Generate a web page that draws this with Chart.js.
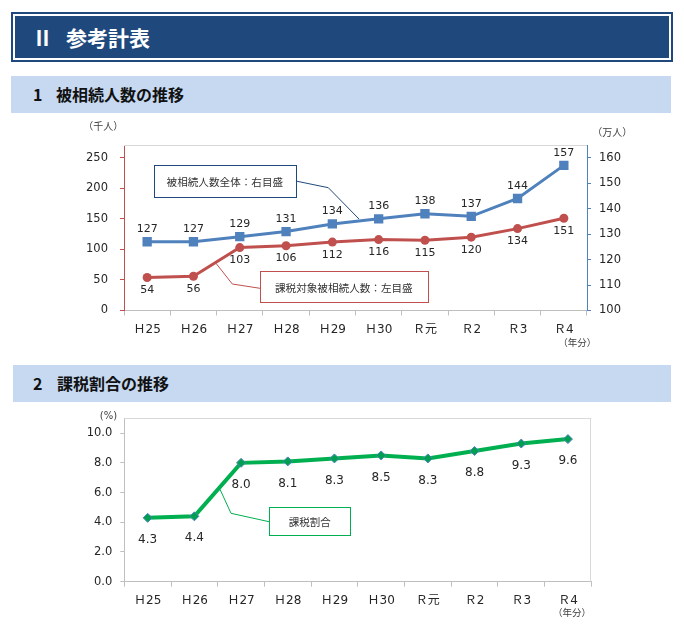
<!DOCTYPE html>
<html><head><meta charset="utf-8">
<script src="https://cdn.jsdelivr.net/npm/chart.js@4"></script>
<style>
html,body{margin:0;padding:0;background:#fff;width:684px;height:632px;overflow:hidden;}
body{position:relative;font-family:"Noto Sans CJK JP","Noto Sans",sans-serif;}
.banner{position:absolute;left:11px;top:12px;width:662px;height:50px;background:#1f497d;box-sizing:border-box;padding:2px;}
.banner .inner{width:100%;height:100%;box-sizing:border-box;border:2px solid #fff;background:#1f497d;position:relative;}
.bt{position:absolute;color:#fff;font-weight:bold;font-size:21px;line-height:21px;top:11px;}
.hdr{position:absolute;background:#c6d9f1;height:37px;}
.ht{position:absolute;color:#111;font-weight:bold;font-size:16px;line-height:16px;top:10px;}
canvas{position:absolute;left:0;}
</style>
</head><body>
<div class="banner"><div class="inner"><span class="bt" style="left:17px">Ⅱ</span><span class="bt" style="left:51px">参考計表</span></div></div>
<div class="hdr" style="left:11px;top:76px;width:660px;"><span class="ht" style="left:22px">1</span><span class="ht" style="left:45px">被相続人数の推移</span></div>
<div class="hdr" style="left:13px;top:365px;width:658px;"><span class="ht" style="left:20px">2</span><span class="ht" style="left:44px">課税割合の推移</span></div>
<canvas id="c1" width="684" height="250" style="top:113px"></canvas>
<canvas id="c2" width="684" height="230" style="top:402px"></canvas>
<script>
// ---- data ----
const categories = ['Ｈ25','Ｈ26','Ｈ27','Ｈ28','Ｈ29','Ｈ30','Ｒ元','Ｒ2','Ｒ3','Ｒ4'];
const totalDecedents = [127,127,129,131,134,136,138,137,144,157];   // 万人 (right axis)
const taxableDecedents = [54,56,103,106,112,116,115,120,134,151];   // 千人 (left axis)
const taxRatio = [4.3,4.4,8.0,8.1,8.3,8.5,8.3,8.8,9.3,9.6];          // %
const leftTicks = [0,50,100,150,200,250];
const rightTicks = [100,110,120,130,140,150,160];
const ratioTicks = [0,2,4,6,8,10];

const NUMFONT = '"DejaVu Sans","Noto Sans CJK JP",sans-serif';
const CJKFONT = '"Noto Sans CJK JP","Noto Sans",sans-serif';
const TXT = '#262626';

const fixedTicks = list => scale => { scale.ticks = list.map(v => ({value: v})); };

const valueLabels = {
  id: 'valueLabels',
  afterDatasetsDraw(chart) {
    const ctx = chart.ctx;
    chart.data.datasets.forEach((ds, i) => {
      const meta = chart.getDatasetMeta(i);
      ctx.save();
      ctx.font = ds.labelFont;
      ctx.fillStyle = TXT;
      ctx.textAlign = 'center';
      ctx.textBaseline = 'middle';
      meta.data.forEach((pt, j) => {
        ctx.fillText(ds.labelFormat(ds.data[j]), pt.x, pt.y + ds.labelOffset);
      });
      ctx.restore();
    });
  }
};

const frame = {
  id: 'frame',
  beforeDatasetsDraw(chart, args, opts) {
    const {ctx, chartArea: a} = chart;
    ctx.save();
    ctx.strokeStyle = opts.color;
    ctx.lineWidth = 1;
    ctx.beginPath();
    const t = Math.round(a.top) + 0.5, r = Math.round(a.right) - 0.5;
    ctx.moveTo(a.left, t); ctx.lineTo(a.right, t);
    if (opts.right) { ctx.moveTo(r, a.top); ctx.lineTo(r, a.bottom); }
    ctx.stroke();
    ctx.restore();
  }
};

const notes = {
  id: 'notes',
  afterDraw(chart, args, opts) {
    const ctx = chart.ctx;
    ctx.save();
    (opts.callouts || []).forEach(c => {
      ctx.strokeStyle = c.color; ctx.lineWidth = 1;
      ctx.beginPath();
      c.leader.forEach((p, k) => k ? ctx.lineTo(p[0], p[1]) : ctx.moveTo(p[0], p[1]));
      ctx.stroke();
      ctx.fillStyle = '#fff';
      ctx.fillRect(c.box[0], c.box[1], c.box[2], c.box[3]);
      ctx.strokeRect(Math.round(c.box[0]) + 0.5, Math.round(c.box[1]) + 0.5, Math.round(c.box[2]), Math.round(c.box[3]));
      ctx.fillStyle = '#333';
      ctx.font = c.font;
      ctx.textAlign = 'center'; ctx.textBaseline = 'middle';
      ctx.fillText(c.text, c.box[0] + c.box[2] / 2, c.box[1] + c.box[3] / 2 + 1);
    });
    (opts.texts || []).forEach(t => {
      ctx.fillStyle = '#404040';
      ctx.font = t.font;
      ctx.textAlign = 'center'; ctx.textBaseline = 'middle';
      ctx.fillText(t.text, t.x, t.y);
    });
    ctx.restore();
  }
};

const xAxis = (h) => ({
  type: 'category', offset: true,
  grid: {drawOnChartArea: false, drawTicks: true, tickLength: 5, color: '#bfbfbf', offset: true},
  border: {color: '#bfbfbf'},
  ticks: {font: {family: NUMFONT, size: 12}, color: TXT, padding: 7, maxRotation: 0, autoSkip: false},
  afterFit(s) { s.height = h; }
});

new Chart(document.getElementById('c1'), {
  type: 'line',
  data: {
    labels: categories,
    datasets: [
      {data: totalDecedents, yAxisID: 'yR', borderColor: '#4f81bd', backgroundColor: '#4f81bd',
       borderWidth: 3, pointStyle: 'rect', pointRadius: 6.6, pointBorderWidth: 0, tension: 0,
       labelOffset: -12.5, labelFont: '11px ' + NUMFONT, labelFormat: v => String(v)},
      {data: taxableDecedents, yAxisID: 'yL', borderColor: '#c0504d', backgroundColor: '#c0504d',
       borderWidth: 3, pointStyle: 'circle', pointRadius: 4.5, pointBorderWidth: 0, tension: 0,
       labelOffset: 12.8, labelFont: '11px ' + NUMFONT, labelFormat: v => String(v)}
    ]
  },
  options: {
    responsive: false, animation: false, devicePixelRatio: 1,
    layout: {padding: {top: 32, left: 0, right: 0, bottom: 0}},
    plugins: {
      legend: {display: false}, tooltip: {enabled: false},
      frame: {color: '#d9d9d9', right: false},
      notes: {
        callouts: [
          {text: '被相続人数全体：右目盛', color: '#1f497d', font: '10.6px ' + CJKFONT,
           box: [154, 51.5, 141.7, 32.2], leader: [[295.7, 68], [328.3, 74.7], [359, 106]]},
          {text: '課税対象被相続人数：左目盛', color: '#c0504d', font: '10.6px ' + CJKFONT,
           box: [260, 158, 167.7, 31.3], leader: [[260, 175.3], [232.3, 171], [216, 150.3]]}
        ],
        texts: [
          {text: '（千人）', x: 103.3, y: 13.7, font: '10px ' + CJKFONT},
          {text: '（万人）', x: 612.3, y: 19.7, font: '10px ' + CJKFONT},
          {text: '（年分）', x: 577.3, y: 229, font: '9.5px ' + CJKFONT}
        ]
      }
    },
    scales: {
      x: xAxis(52.5),
      yL: {position: 'left', min: 0, max: 270.83, afterBuildTicks: fixedTicks(leftTicks),
           grid: {drawOnChartArea: false, tickLength: 4, color: '#c0504d'}, border: {color: '#c0504d'},
           ticks: {font: {family: NUMFONT, size: 11.5}, color: TXT, padding: 12},
           afterFit(s) { s.width = 124; }},
      yR: {position: 'right', min: 100, max: 165, afterBuildTicks: fixedTicks(rightTicks),
           grid: {drawOnChartArea: false, tickLength: 4, color: '#4f81bd'}, border: {color: '#4f81bd'},
           ticks: {font: {family: NUMFONT, size: 11.5}, color: TXT, padding: 8},
           afterFit(s) { s.width = 97; }}
    }
  },
  plugins: [valueLabels, frame, notes]
});

new Chart(document.getElementById('c2'), {
  type: 'line',
  data: {
    labels: categories,
    datasets: [
      {data: taxRatio, yAxisID: 'y', borderColor: '#00b050', backgroundColor: '#00a050',
       borderWidth: 4, pointStyle: 'rectRot', pointRadius: 4.5, pointBorderWidth: 1, pointBorderColor: '#4f81bd',
       tension: 0, labelOffset: 22, labelFont: '12px ' + NUMFONT, labelFormat: v => v.toFixed(1)}
    ]
  },
  options: {
    responsive: false, animation: false, devicePixelRatio: 1,
    layout: {padding: {top: 16.3, left: 0, right: 92.7, bottom: 0}},
    plugins: {
      legend: {display: false}, tooltip: {enabled: false},
      frame: {color: '#d9d9d9', right: true},
      notes: {
        callouts: [
          {text: '課税割合', color: '#00b050', font: '10.5px ' + CJKFONT,
           box: [269, 104.7, 81.3, 28.3], leader: [[269, 119.7], [231, 111.3], [220, 87.3]]}
        ],
        texts: [
          {text: '(%)', x: 108.5, y: 14.7, font: '10px ' + NUMFONT},
          {text: '（年分）', x: 572, y: 210.5, font: '9.5px ' + CJKFONT}
        ]
      }
    },
    scales: {
      x: xAxis(50.3),
      y: {position: 'left', min: 0, max: 11, afterBuildTicks: fixedTicks(ratioTicks),
          grid: {drawOnChartArea: false, tickLength: 4, color: '#bfbfbf'}, border: {color: '#bfbfbf'},
          ticks: {font: {family: NUMFONT, size: 11.5}, color: TXT, padding: 8, callback: v => v.toFixed(1)},
          afterFit(s) { s.width = 124.3; }}
    }
  },
  plugins: [valueLabels, frame, notes]
});
</script>
</body></html>
